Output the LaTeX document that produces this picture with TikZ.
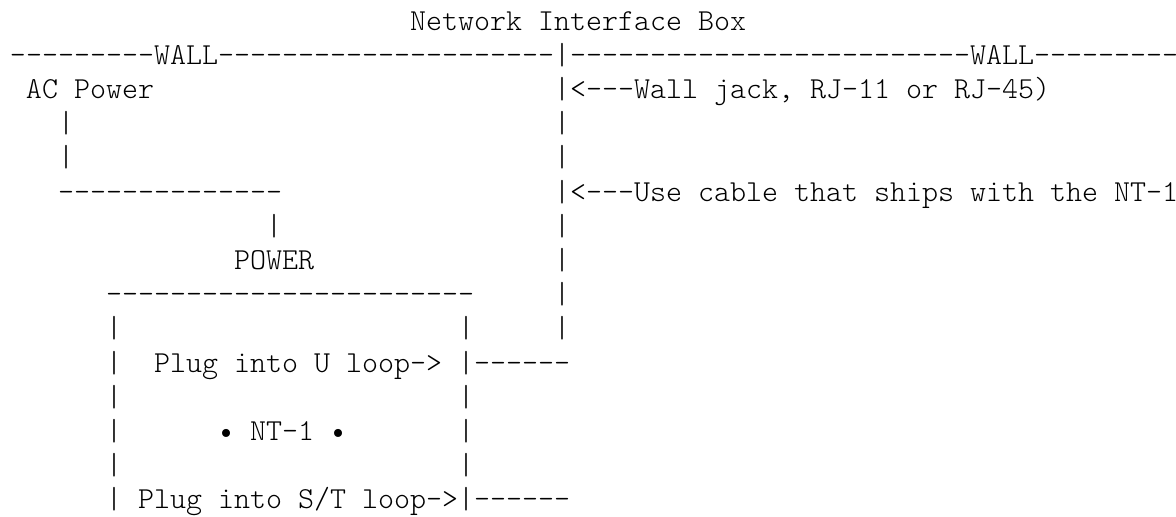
\documentclass[tikz,border=0pt]{standalone}
\usepackage{fontspec}
\newfontfamily\asciifont{lmmonolt10-regular.otf}
\begin{document}
\begin{tikzpicture}[x=8pt,y=-17.1pt,
  ascii/.style={font=\asciifont\fontsize{15.24pt}{17.1pt}\selectfont,anchor=base west,inner sep=0pt,outer sep=0pt,yshift=-4.66pt}]
\useasboundingbox (0.375,-0.608) rectangle (73.875,14.48);
\node[ascii] (title) at (26,0) {Network Interface Box};
\node[ascii] (wall) at (1,1) {---------WALL---------------------|-------------------------WALL---------};
% AC power side
\node[ascii] (acpower) at (2,2) {AC Power};
\foreach \r in {3,4}
  \node[ascii] (acbar\r) at (4,\r) {|};
\node[ascii] (acline) at (4,5) {--------------};
\node[ascii] (powerbar) at (17,6) {|};
\node[ascii] (power) at (15,7) {POWER};
% the wall jack side
\foreach \r in {2,...,9}
  \node[ascii] (jackbar\r) at (35,\r) {|};
\node[ascii] (jack) at (36,2) {<---Wall jack, RJ-11 or RJ-45)};
\node[ascii] (cable) at (36,5) {<---Use cable that ships with the NT-1};
% the NT-1 box
\node[ascii] (boxtop) at (7,8) {-----------------------};
\foreach \r in {9,...,14}
  \node[ascii] (boxleft\r) at (7,\r) {|};
\foreach \r in {9,...,13}
  \node[ascii] (boxright\r) at (29,\r) {|};
\node[ascii] (uloop) at (10,10) {Plug into U loop->};
\node[ascii] (ucable) at (30,10) {------};
\node[ascii] (nt) at (14,12) {• NT-1 •};
\node[ascii] (stloop) at (9,14) {Plug into S/T loop->|------};
\end{tikzpicture}
\end{document}
